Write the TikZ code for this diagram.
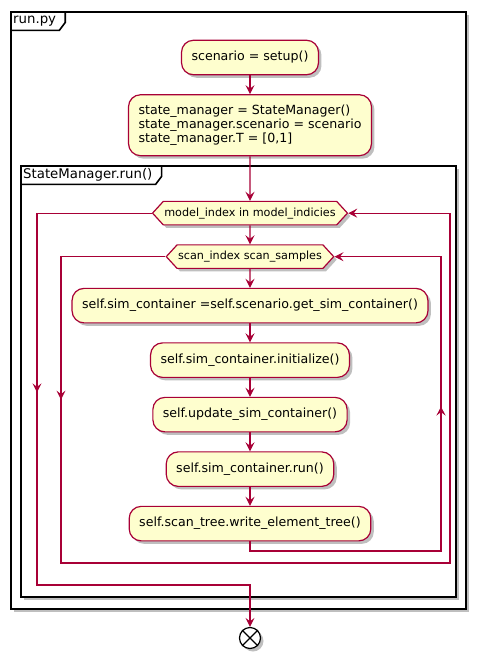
\documentclass[tikz,border=0pt]{standalone}
\usepackage{fontspec}
\setmainfont{DejaVu Sans}
\usetikzlibrary{arrows.meta,positioning,shapes.symbols,shadows,decorations.markings}
\definecolor{actfill}{HTML}{FEFECE}
\definecolor{actline}{HTML}{A80036}

\begin{document}
\begin{tikzpicture}[
    x=1pt, y=-1pt,
    node distance=18.8pt,
    >={Stealth[length=9pt,width=9pt,inset=3.5pt]},
    shadowed/.style={drop shadow={shadow xshift=3pt, shadow yshift=-3pt, fill=black, opacity=0.25}},
    action/.style={draw=actline, fill=actfill, line width=1.2pt, rounded corners=12pt, inner xsep=10pt, inner ysep=10pt, minimum height=34.5pt, font=\fontsize{12.6}{14.2}\selectfont, align=left, shadowed},
    guard/.style={draw=actline, fill=actfill, line width=1.2pt, shape=signal, signal to=west and east, signal pointer angle=95, minimum height=23.5pt, inner xsep=1pt, font=\fontsize{11.2}{13}\selectfont, shadowed},
    flow/.style={draw=actline, line width=1.1pt, ->},
    arrowat/.style={postaction={decorate}, decoration={markings, mark=at position #1 with {\arrow{>}}}},
    framebox/.style={draw=black, line width=1.6pt},
    tabtext/.style={font=\fontsize{13.3}{15}\selectfont, anchor=north west, inner xsep=2pt, inner ysep=0pt, minimum height=18pt},
]
    \useasboundingbox (0,0) rectangle (482,665);

    % frames
    \draw[framebox, fill=white, shadowed] (11,12) rectangle (466,609);
    \node (runlbl) [tabtext] at (11,12) {run.py};
    \draw[framebox] (runlbl.south west) -- ([xshift=1pt]runlbl.south east) -- ([xshift=7pt,yshift=8pt]runlbl.south east) -- ([xshift=7pt]runlbl.north east);

    \draw[framebox, fill=white, shadowed] (21,166) rectangle (456,597);
    \node (smlbl) [tabtext] at (21,166) {StateManager.run()};
    \draw[framebox] (smlbl.south west) -- ([xshift=1pt]smlbl.south east) -- ([xshift=7pt,yshift=8pt]smlbl.south east) -- ([xshift=7pt]smlbl.north east);

    % activities
    \node (setup) [action] at (250,57.5) {scenario = setup()};
    \node (state) [action, below=of setup] {state\_manager = StateManager()\\state\_manager.scenario = scenario\\state\_manager.T = [0,1]};
    \node (models) [guard, below=44.5pt of state] {model\_index in model\_indicies};
    \node (scans) [guard, below=of models] {scan\_index scan\_samples};
    \node (getsim) [action, below=of scans] {self.sim\_container =self.scenario.get\_sim\_container()};
    \node (init) [action, below=of getsim] {self.sim\_container.initialize()};
    \node (update) [action, below=of init] {self.update\_sim\_container()};
    \node (simrun) [action, below=of update] {self.sim\_container.run()};
    \node (tree) [action, below=of simrun] {self.scan\_tree.write\_element\_tree()};
    \node (stop) [circle, draw, fill=white, line width=1.2pt, minimum size=21pt, inner sep=0pt, shadowed] at (250,638) {};
    \draw[line width=1.2pt] (stop.45) -- (stop.225) (stop.135) -- (stop.315);

    \draw[flow] (setup) -- (state);
    \draw[flow] (state) -- (models);
    \draw[flow] (models) -- (scans);
    \draw[flow] (scans) -- (getsim);
    \draw[flow] (getsim) -- (init);
    \draw[flow] (init) -- (update);
    \draw[flow] (update) -- (simrun);
    \draw[flow] (simrun) -- (tree);

    % loops
    \coordinate (back) at (441,551);
    \draw[flow, arrowat=345pt] (tree.south) |- (back) |- (scans.east);
    \coordinate (scans out) at (61,563);
    \coordinate (scans out r) at (450,563);
    \draw[flow, arrowat=247.5pt] (scans.west) -| (scans out) -- (scans out r) |- (models.east);
    \coordinate (models out) at (37,585);
    \draw[flow, arrowat=294pt] (models.west) -| (models out) -| (stop);
\end{tikzpicture}
\end{document}
